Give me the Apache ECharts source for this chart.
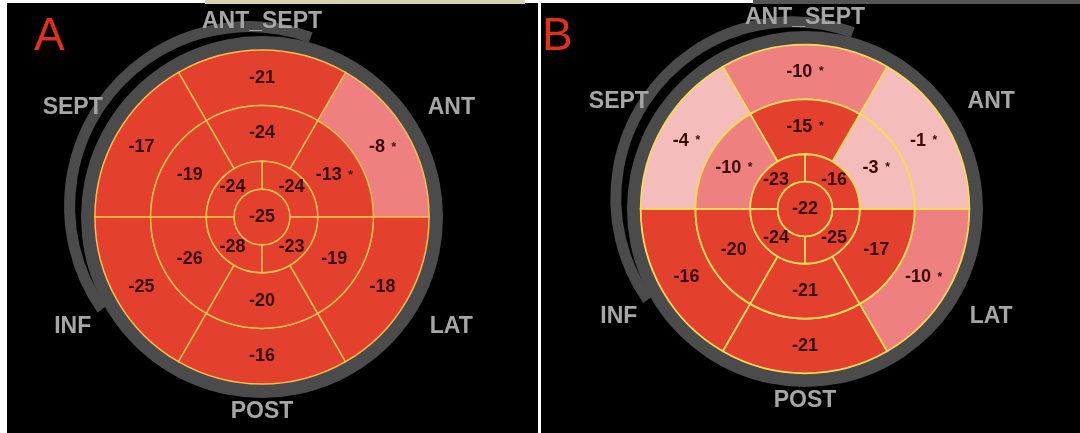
<!DOCTYPE html>
<html>
<head>
<meta charset="utf-8">
<style>
  html, body { margin: 0; padding: 0; background: #fff; }
  #chart { width: 1080px; height: 433px; }
</style>
<script src="https://cdn.jsdelivr.net/npm/echarts@6/dist/echarts.min.js"></script>
</head>
<body>
<div id="chart"></div>
<script>
// 17-segment bull's eye; segments listed counter-clockwise starting at 3 o'clock
const basalA = [-8, -21, -17, -25, -16, -18];
const basalStarA = [1, 0, 0, 0, 0, 0];
const midA = [-13, -24, -19, -26, -20, -19];
const midStarA = [1, 0, 0, 0, 0, 0];
const apicalA = [-24, -24, -28, -23];
const apexA = -25;

const basalB = [-1, -10, -4, -16, -21, -10];
const basalStarB = [1, 1, 1, 0, 0, 1];
const midB = [-3, -15, -10, -20, -21, -17];
const midStarB = [1, 1, 1, 0, 0, 0];
const apicalB = [-16, -23, -24, -25];
const apexB = -22;

const walls = ['ANT', 'ANT_SEPT', 'SEPT', 'INF', 'POST', 'LAT'];
const wallAngles = [30, 90, 150, 210, 270, 330];

const RED = '#e4402e';
const PINK = '#ef8080';
const PALE = '#f5bcbc';
const RING = '#4b4b4b';
const FONT = '"Liberation Sans", Arial, sans-serif';

function segments(basal, basalStar, mid, midStar, apical, apex) {
  const out = [];
  basal.forEach((v, i) => out.push([4, 6, i * 60, i * 60 + 60, v, basalStar[i]]));
  mid.forEach((v, i) => out.push([2, 4, i * 60, i * 60 + 60, v, midStar[i]]));
  apical.forEach((v, i) => out.push([1, 2, i * 90, i * 90 + 90, v, 0]));
  out.push([0, 1, 0, 360, apex, 0]);
  return out;
}

function helpers(params, api) {
  const cx = params.coordSys.cx, cy = params.coordSys.cy;
  const rad = v => { const p = api.coord([v, 0]); return Math.hypot(p[0] - cx, p[1] - cy); };
  const ang = a => { const p = api.coord([1, a]); return Math.atan2(p[1] - cy, p[0] - cx); };
  return { cx, cy, rad, ang };
}

function sweep(h, a0, a1) {
  if (a1 - a0 >= 360) return [0, Math.PI * 2];
  const s = h.ang(a1);
  let e = h.ang(a0);
  while (e <= s) e += Math.PI * 2;
  return [s, e];
}

function segmentRenderer(lineColor, lineWidth) {
  return function (params, api) {
    const h = helpers(params, api);
    const r0 = api.value(0), r1 = api.value(1), a0 = api.value(2), a1 = api.value(3);
    const v = api.value(4), star = api.value(5);
    const [s, e] = sweep(h, a0, a1);
    const p = api.coord([r0 === 0 ? 0 : (r0 + r1) / 2, (a0 + a1) / 2]);
    return {
      type: 'group',
      children: [{
        type: 'sector',
        shape: { cx: h.cx, cy: h.cy, r0: h.rad(r0), r: h.rad(r1), startAngle: s, endAngle: e, clockwise: true },
        style: { fill: api.visual('color'), stroke: lineColor, lineWidth: lineWidth }
      }, {
        type: 'text', x: p[0], y: p[1], z2: 10,
        style: {
          text: star ? '{v|' + v + '}  {s|*}' : '{v|' + v + '}',
          align: 'center', verticalAlign: 'middle',
          rich: {
            v: { fontSize: 18, fontWeight: 'bold', fontFamily: FONT, fill: '#360a07' },
            s: { fontSize: 12, fontWeight: 'bold', fontFamily: FONT, fill: '#360a07' }
          }
        }
      }]
    };
  };
}

// grey rim round the disk plus the offset crescent behind it
function renderFrame(params, api) {
  const h = helpers(params, api);
  const c = api.coord([0.6, 140]);
  const [s, e] = sweep(h, 70, 215);
  return {
    type: 'group',
    children: [{
      type: 'sector',
      shape: { cx: h.cx, cy: h.cy, r0: h.rad(6), r: h.rad(6.5), startAngle: 0, endAngle: Math.PI * 2 },
      style: { fill: RING }
    }, {
      type: 'arc',
      shape: { cx: c[0], cy: c[1], r: h.rad(6.45), startAngle: s, endAngle: e, clockwise: true },
      style: { stroke: RING, lineWidth: 11, fill: 'none' }
    }]
  };
}

function renderWall(params, api) {
  const a = api.value(1);
  const p = api.coord([a % 180 === 90 ? 7.0 : 7.85, a]);
  return {
    type: 'text', x: p[0], y: p[1],
    style: {
      text: walls[params.dataIndex], align: 'center', verticalAlign: 'middle',
      fontSize: 23, fontWeight: 'bold', fontFamily: FONT, fill: '#a6a6a6'
    }
  };
}

const chart = echarts.init(document.getElementById('chart'), null, { renderer: 'canvas' });

const axisOff = { show: false };
const wallData = wallAngles.map(a => [0, a]);

chart.setOption({
  animation: false,
  backgroundColor: '#fff',
  graphic: [
    { type: 'rect', shape: { x: 7, y: 3, width: 531, height: 430 }, style: { fill: '#000' } },
    { type: 'rect', shape: { x: 541, y: 3, width: 539, height: 430 }, style: { fill: '#000' } },
    { type: 'rect', shape: { x: 205, y: 0, width: 320, height: 4 }, style: { fill: '#d6d3b5' } },
    { type: 'rect', shape: { x: 753, y: 0, width: 327, height: 4 }, style: { fill: '#555' } },
    { type: 'text', x: 34, y: 37, style: { text: 'A', fontSize: 46, fontFamily: FONT, fill: '#e2301f', verticalAlign: 'middle' } },
    { type: 'text', x: 542, y: 37, style: { text: 'B', fontSize: 46, fontFamily: FONT, fill: '#e2301f', verticalAlign: 'middle' } }
  ],
  polar: [
    { center: [262, 217], radius: 181 },
    { center: [805, 209], radius: 178 }
  ],
  angleAxis: [
    { polarIndex: 0, type: 'value', min: 0, max: 360, startAngle: 0, clockwise: false, ...axisOff },
    { polarIndex: 1, type: 'value', min: 0, max: 360, startAngle: 0, clockwise: false, ...axisOff }
  ],
  radiusAxis: [
    { polarIndex: 0, type: 'value', min: 0, max: 6.5, ...axisOff },
    { polarIndex: 1, type: 'value', min: 0, max: 6.5, ...axisOff }
  ],
  visualMap: {
    type: 'piecewise', show: false, dimension: 4, seriesIndex: [0, 1],
    pieces: [
      { lt: -12, color: RED },
      { gte: -12, lt: -6, color: PINK },
      { gte: -6, color: PALE }
    ]
  },
  series: [
    { type: 'custom', coordinateSystem: 'polar', polarIndex: 0, z: 3,
      renderItem: segmentRenderer('#f4c04a', 1.5),
      data: segments(basalA, basalStarA, midA, midStarA, apicalA, apexA) },
    { type: 'custom', coordinateSystem: 'polar', polarIndex: 1, z: 3,
      renderItem: segmentRenderer('#f7da58', 1.8),
      data: segments(basalB, basalStarB, midB, midStarB, apicalB, apexB) },
    { type: 'custom', coordinateSystem: 'polar', polarIndex: 0, z: 2, renderItem: renderFrame, data: [[6, 0]] },
    { type: 'custom', coordinateSystem: 'polar', polarIndex: 1, z: 2, renderItem: renderFrame, data: [[6, 0]] },
    { type: 'custom', coordinateSystem: 'polar', polarIndex: 0, z: 4, renderItem: renderWall, data: wallData },
    { type: 'custom', coordinateSystem: 'polar', polarIndex: 1, z: 4, renderItem: renderWall, data: wallData }
  ]
});
</script>
</body>
</html>
